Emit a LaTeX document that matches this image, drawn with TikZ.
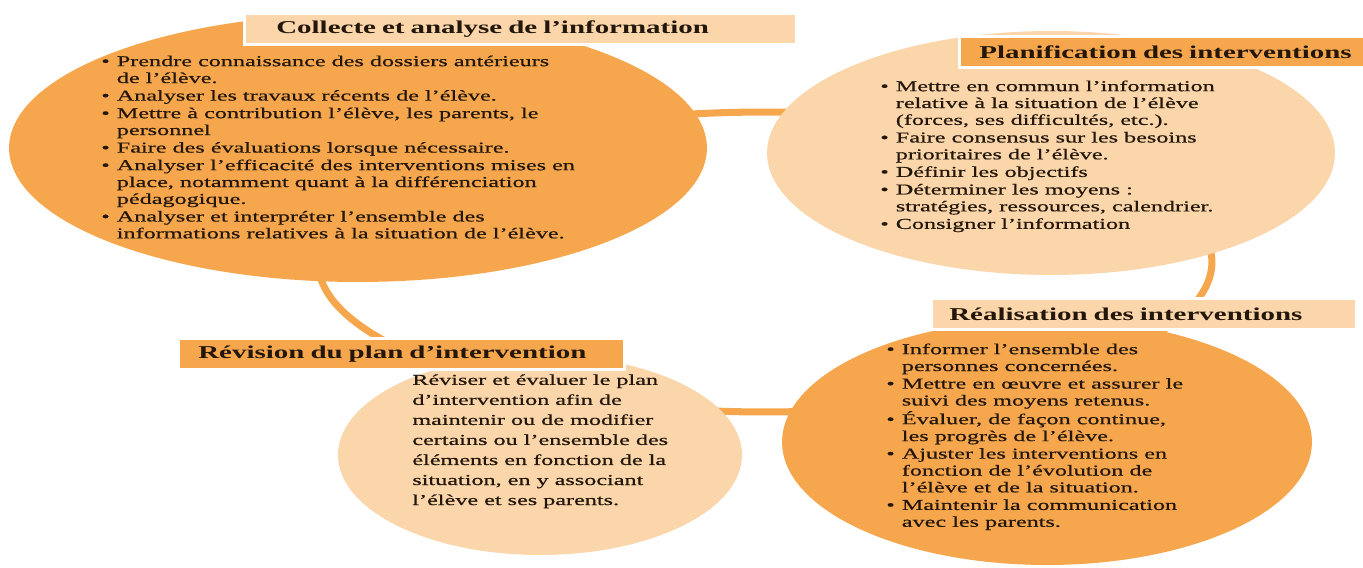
\documentclass[tikz,border=0pt]{standalone}
\usepackage{fontspec}
\setmainfont{Liberation Serif}[FakeStretch=1.6]
\newfontfamily\bodyfont{Liberation Serif}[FakeStretch=1.6, FakeBold=0.6]
\usetikzlibrary{shapes.geometric}
\definecolor{deep}{RGB}{246, 167, 78}
\definecolor{pale}{RGB}{250, 214, 170}
\definecolor{ink}{RGB}{35, 22, 10}

\begin{document}
\begin{tikzpicture}[x=0.02cm, y=-0.02cm,
    blob/.style={ellipse, inner sep=0pt},
    head/.style={rectangle, anchor=north west, draw=white, line width=1.5pt,
      minimum height=0.62cm, align=left, text=ink,
      font=\fontsize{10.3}{12}\selectfont\bfseries},
    list/.style={anchor=north west, inner sep=0pt, align=left, text=ink,
      font=\bodyfont\fontsize{8.6}{9.6}\selectfont}]
  \useasboundingbox (0, 0) rectangle (1363, 568);
  \fill [white] (0, 0) rectangle (1363, 568);

  % ring behind the four stages
  \node [blob, draw=deep, line width=4pt, minimum width=17.88cm, minimum height=6cm]
    (cycle) at (765, 262) {};

  \node [blob, fill=deep, minimum width=13.96cm, minimum height=5.36cm] (collecte) at (358, 148) {};
  \node [blob, fill=pale, minimum width=11.36cm, minimum height=4.88cm] (planif) at (1051, 153) {};
  \node [blob, fill=deep, minimum width=10.6cm, minimum height=4.92cm] (realis) at (1047, 442) {};
  \node [blob, fill=pale, minimum width=8.08cm, minimum height=4cm] (revision) at (540, 455) {};

  \node [head, fill=pale, text width=9.76cm, inner xsep=0.64cm] (collecte-head) at (243, 12)
    {Collecte et analyse de l’information};
  \node [head, fill=deep, text width=7.8cm, inner xsep=0.4cm] (planif-head) at (958, 35)
    {Planification des interventions};
  \node [head, fill=pale, text width=7.78cm, inner xsep=0.36cm] (realis-head) at (930, 297)
    {Réalisation des interventions};
  \node [head, fill=deep, text width=8.12cm, inner xsep=0.4cm] (revision-head) at (177, 337)
    {Révision du plan d’intervention};

  \node [list] (collecte-txt) at (101, 54) {%
    \begin{tabular}{@{}c@{\hspace{4pt}}l@{}}
      \textbullet & Prendre connaissance des dossiers antérieurs \\
                  & de l’élève. \\[0.4pt]
      \textbullet & Analyser les travaux récents de l’élève. \\[0.4pt]
      \textbullet & Mettre à contribution l’élève, les parents, le \\
                  & personnel \\[0.4pt]
      \textbullet & Faire des évaluations lorsque nécessaire. \\[0.4pt]
      \textbullet & Analyser l’efficacité des interventions mises en \\
                  & place, notamment quant à la différenciation \\
                  & pédagogique. \\[0.4pt]
      \textbullet & Analyser et interpréter l’ensemble des \\
                  & informations relatives à la situation de l’élève.
    \end{tabular}};

  \node [list] (planif-txt) at (880, 79) {%
    \begin{tabular}{@{}c@{\hspace{4pt}}l@{}}
      \textbullet & Mettre en commun l’information \\
                  & relative à la situation de l’élève \\
                  & (forces, ses difficultés, etc.). \\[0.4pt]
      \textbullet & Faire consensus sur les besoins \\
                  & prioritaires de l’élève. \\[0.4pt]
      \textbullet & Définir les objectifs \\[0.4pt]
      \textbullet & Déterminer les moyens : \\
                  & stratégies, ressources, calendrier. \\[0.4pt]
      \textbullet & Consigner l’information
    \end{tabular}};

  \node [list] (realis-txt) at (886, 342) {%
    \begin{tabular}{@{}c@{\hspace{4pt}}l@{}}
      \textbullet & Informer l’ensemble des \\
                  & personnes concernées. \\[0.4pt]
      \textbullet & Mettre en œuvre et assurer le \\
                  & suivi des moyens retenus. \\[0.4pt]
      \textbullet & Évaluer, de façon continue, \\
                  & les progrès de l’élève. \\[0.4pt]
      \textbullet & Ajuster les interventions en \\
                  & fonction de l’évolution de \\
                  & l’élève et de la situation. \\[0.4pt]
      \textbullet & Maintenir la communication \\
                  & avec les parents.
    \end{tabular}};

  \node [list, font=\bodyfont\fontsize{8.6}{11.4}\selectfont] (revision-txt) at (412, 374)
    {Réviser et évaluer le plan\\d’intervention afin de\\maintenir ou de modifier\\
     certains ou l’ensemble des\\éléments en fonction de la\\situation, en y associant\\
     l’élève et ses parents.};
\end{tikzpicture}
\end{document}
